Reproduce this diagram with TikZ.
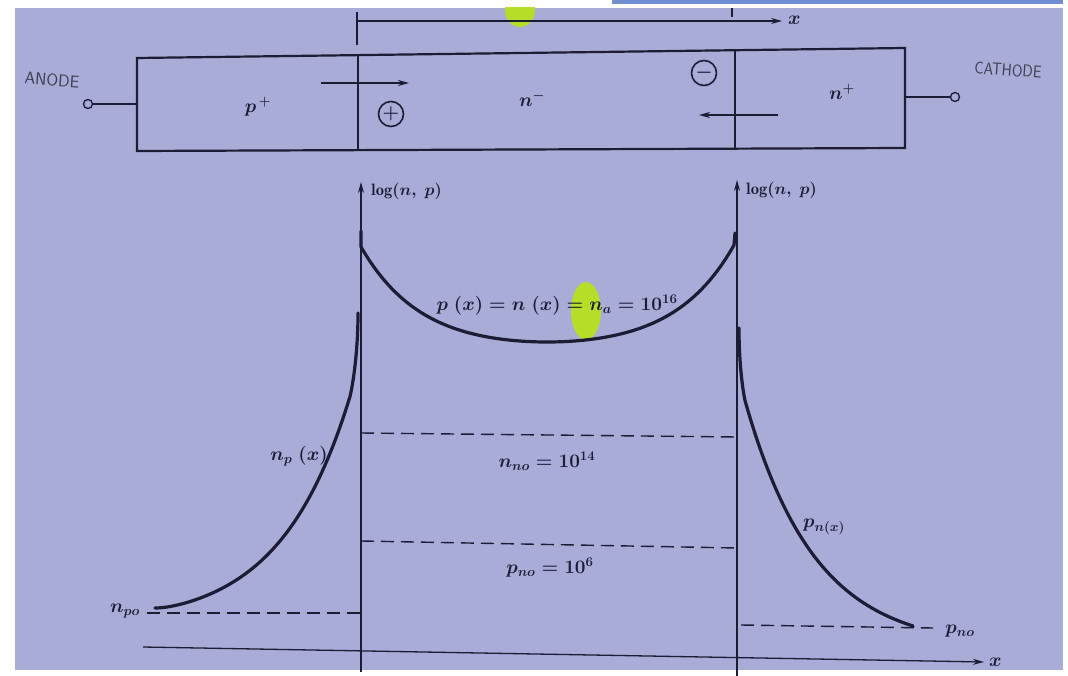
\RequirePackage{fix-cm}
\documentclass[tikz,border=0pt]{standalone}
\usepackage{fontspec}
\usetikzlibrary{arrows.meta}
\definecolor{paper}{RGB}{168,172,214}
\definecolor{ink}{RGB}{28,28,52}
\definecolor{hl}{RGB}{180,222,40}
\definecolor{barblue}{RGB}{112,142,208}
\begin{document}
\begin{tikzpicture}[x=1pt,y=-1pt,
  thin ink/.style={draw=ink,line width=1.3pt},
  boxline/.style={draw=ink,line width=2.2pt},
  curve/.style={draw=ink,line width=3.2pt,line cap=round,line join=round},
  dashline/.style={draw=ink,line width=1.4pt,dash pattern=on 13pt off 7pt},
  axisarrow/.style={draw=ink,line width=1.3pt,-{Stealth[length=11pt,width=6pt]}},
  lbl/.style={text=ink,font=\fontsize{19}{23}\selectfont\boldmath,inner sep=0pt},
  loglbl/.style={text=ink,font=\fontsize{16.5}{20}\selectfont\boldmath,inner sep=0pt},
  hand/.style={text=ink!85,font=\sffamily\fontsize{17}{20}\selectfont,inner sep=0pt}]
\useasboundingbox (0,0) rectangle (1068,676);
\fill[white] (0,0) rectangle (1068,676);
\fill[paper] (15,8) rectangle (1063,670);
\fill[barblue] (612,0) rectangle (1063,4);
\begin{scope}
  \clip (15,8) rectangle (1063,670);
  \fill[hl] (520,10) ellipse [x radius=15, y radius=17];
  \fill[hl] (586,311) ellipse [x radius=15, y radius=29];
\end{scope}

% top x axis
\coordinate (tx0) at (357,21);
\coordinate (tx1) at (782,21);
\draw[thin ink] (357,12) -- (357,45);
\draw[thin ink] (732,8) -- (732,17);
\draw[axisarrow] (tx0) -- (tx1);
\node[lbl,anchor=west] (xtop) at (788,20) {$x$};

% device box
\coordinate (b1) at (137,58); \coordinate (b2) at (905,48);
\coordinate (b3) at (905,148); \coordinate (b4) at (137,151);
\draw[boxline] (b1) -- (b2) -- (b3) -- (b4) -- cycle;
\draw[boxline] (358,55) -- (358,150);
\draw[boxline] (735,50) -- (735,148);
\node[draw=ink,line width=1.3pt,circle,minimum size=9pt,inner sep=0pt,fill=paper] (tl) at (88,104) {};
\node[draw=ink,line width=1.3pt,circle,minimum size=9pt,inner sep=0pt,fill=paper] (tr) at (955,97) {};
\draw[boxline] (tl) -- (137,104);
\draw[boxline] (905,97) -- (tr);
\node[hand,rotate=-4] (anode) at (52,80) {ANODE};
\node[hand,rotate=-4,xscale=0.9] (cathode) at (1008,70) {CATHODE};
\node[lbl] (pp) at (258,107) {$p^{\,+}$};
\node[lbl] (nm) at (532,99) {$n^{-}$};
\node[lbl] (np) at (842,92) {$n^{+}$};
\node[draw=ink,line width=1.6pt,circle,minimum size=25pt,inner sep=0pt,lbl] (cplus) at (391,114) {$+$};
\node[draw=ink,line width=1.6pt,circle,minimum size=25pt,inner sep=0pt,lbl] (cminus) at (704,73) {$-$};
\coordinate (ar0) at (321,83); \coordinate (ar1) at (409,83);
\draw[thin ink,line width=1.8pt,-{Stealth[length=11pt,width=6pt]}] (ar0) -- (ar1);
\coordinate (al0) at (778,115); \coordinate (al1) at (699,115);
\draw[thin ink,line width=1.8pt,-{Stealth[length=11pt,width=6pt]}] (al0) -- (al1);

% lower graph axes
\coordinate (lv0) at (361,672); \coordinate (lv1) at (361,182);
\coordinate (rv0) at (737,676); \coordinate (rv1) at (737,180);
\coordinate (hx0) at (143,647); \coordinate (hx1) at (984,662);
\draw[axisarrow] (lv0) -- (lv1);
\draw[axisarrow] (rv0) -- (rv1);
\draw[axisarrow] (hx0) -- (hx1);
\node[loglbl,anchor=west] (logl) at (371,191) {$\log(n,\ p)$};
\node[loglbl,anchor=west] (logr) at (746,190) {$\log(n,\ p)$};
\node[lbl,anchor=west] (xbot) at (989,662) {$x$};

% dashed levels
\draw[dashline] (361,433) -- (737,437);
\draw[dashline] (361,541) -- (737,548);
\draw[dashline] (147,613) -- (361,613);
\draw[dashline] (741,625) -- (933,628);

% curves
\draw[curve] (361,231) -- plot[domain=361:734,samples=90] (\x,{342-9.4*(cosh((\x-547)/60)-1)}) -- (735,233);
\draw[curve] plot[domain=155:350,samples=70] (\x,{608-14.1*(exp((\x-155)/70)-1)-3*exp(-(\x-155)/15)+3}) .. controls (353,384) and (358,352) .. (358,313);
\draw[curve] (739,328) .. controls (739,360) and (742,386) .. (745,400.5) -- plot[domain=745:913,samples=70] (\x,{626-22.5*(exp((913-\x)/70)-1)});

% labels
\node[lbl] (peq) at (557,305) {$p\;(x) = n\;(x) = n_a = 10^{16}$};
\node[lbl] (nno) at (547,461) {$n_{no} = 10^{14}$};
\node[lbl] (pno) at (550,568) {$p_{no} = 10^{6}$};
\node[lbl] (npx) at (299,456) {$n_p\;(x)$};
\node[lbl] (npo) at (125,611) {$n_{po}$};
\node[lbl] (pnx) at (824,527) {$p_{n(x)}$};
\node[lbl] (pnoR) at (960,631) {$p_{no}$};
\end{tikzpicture}
\end{document}
